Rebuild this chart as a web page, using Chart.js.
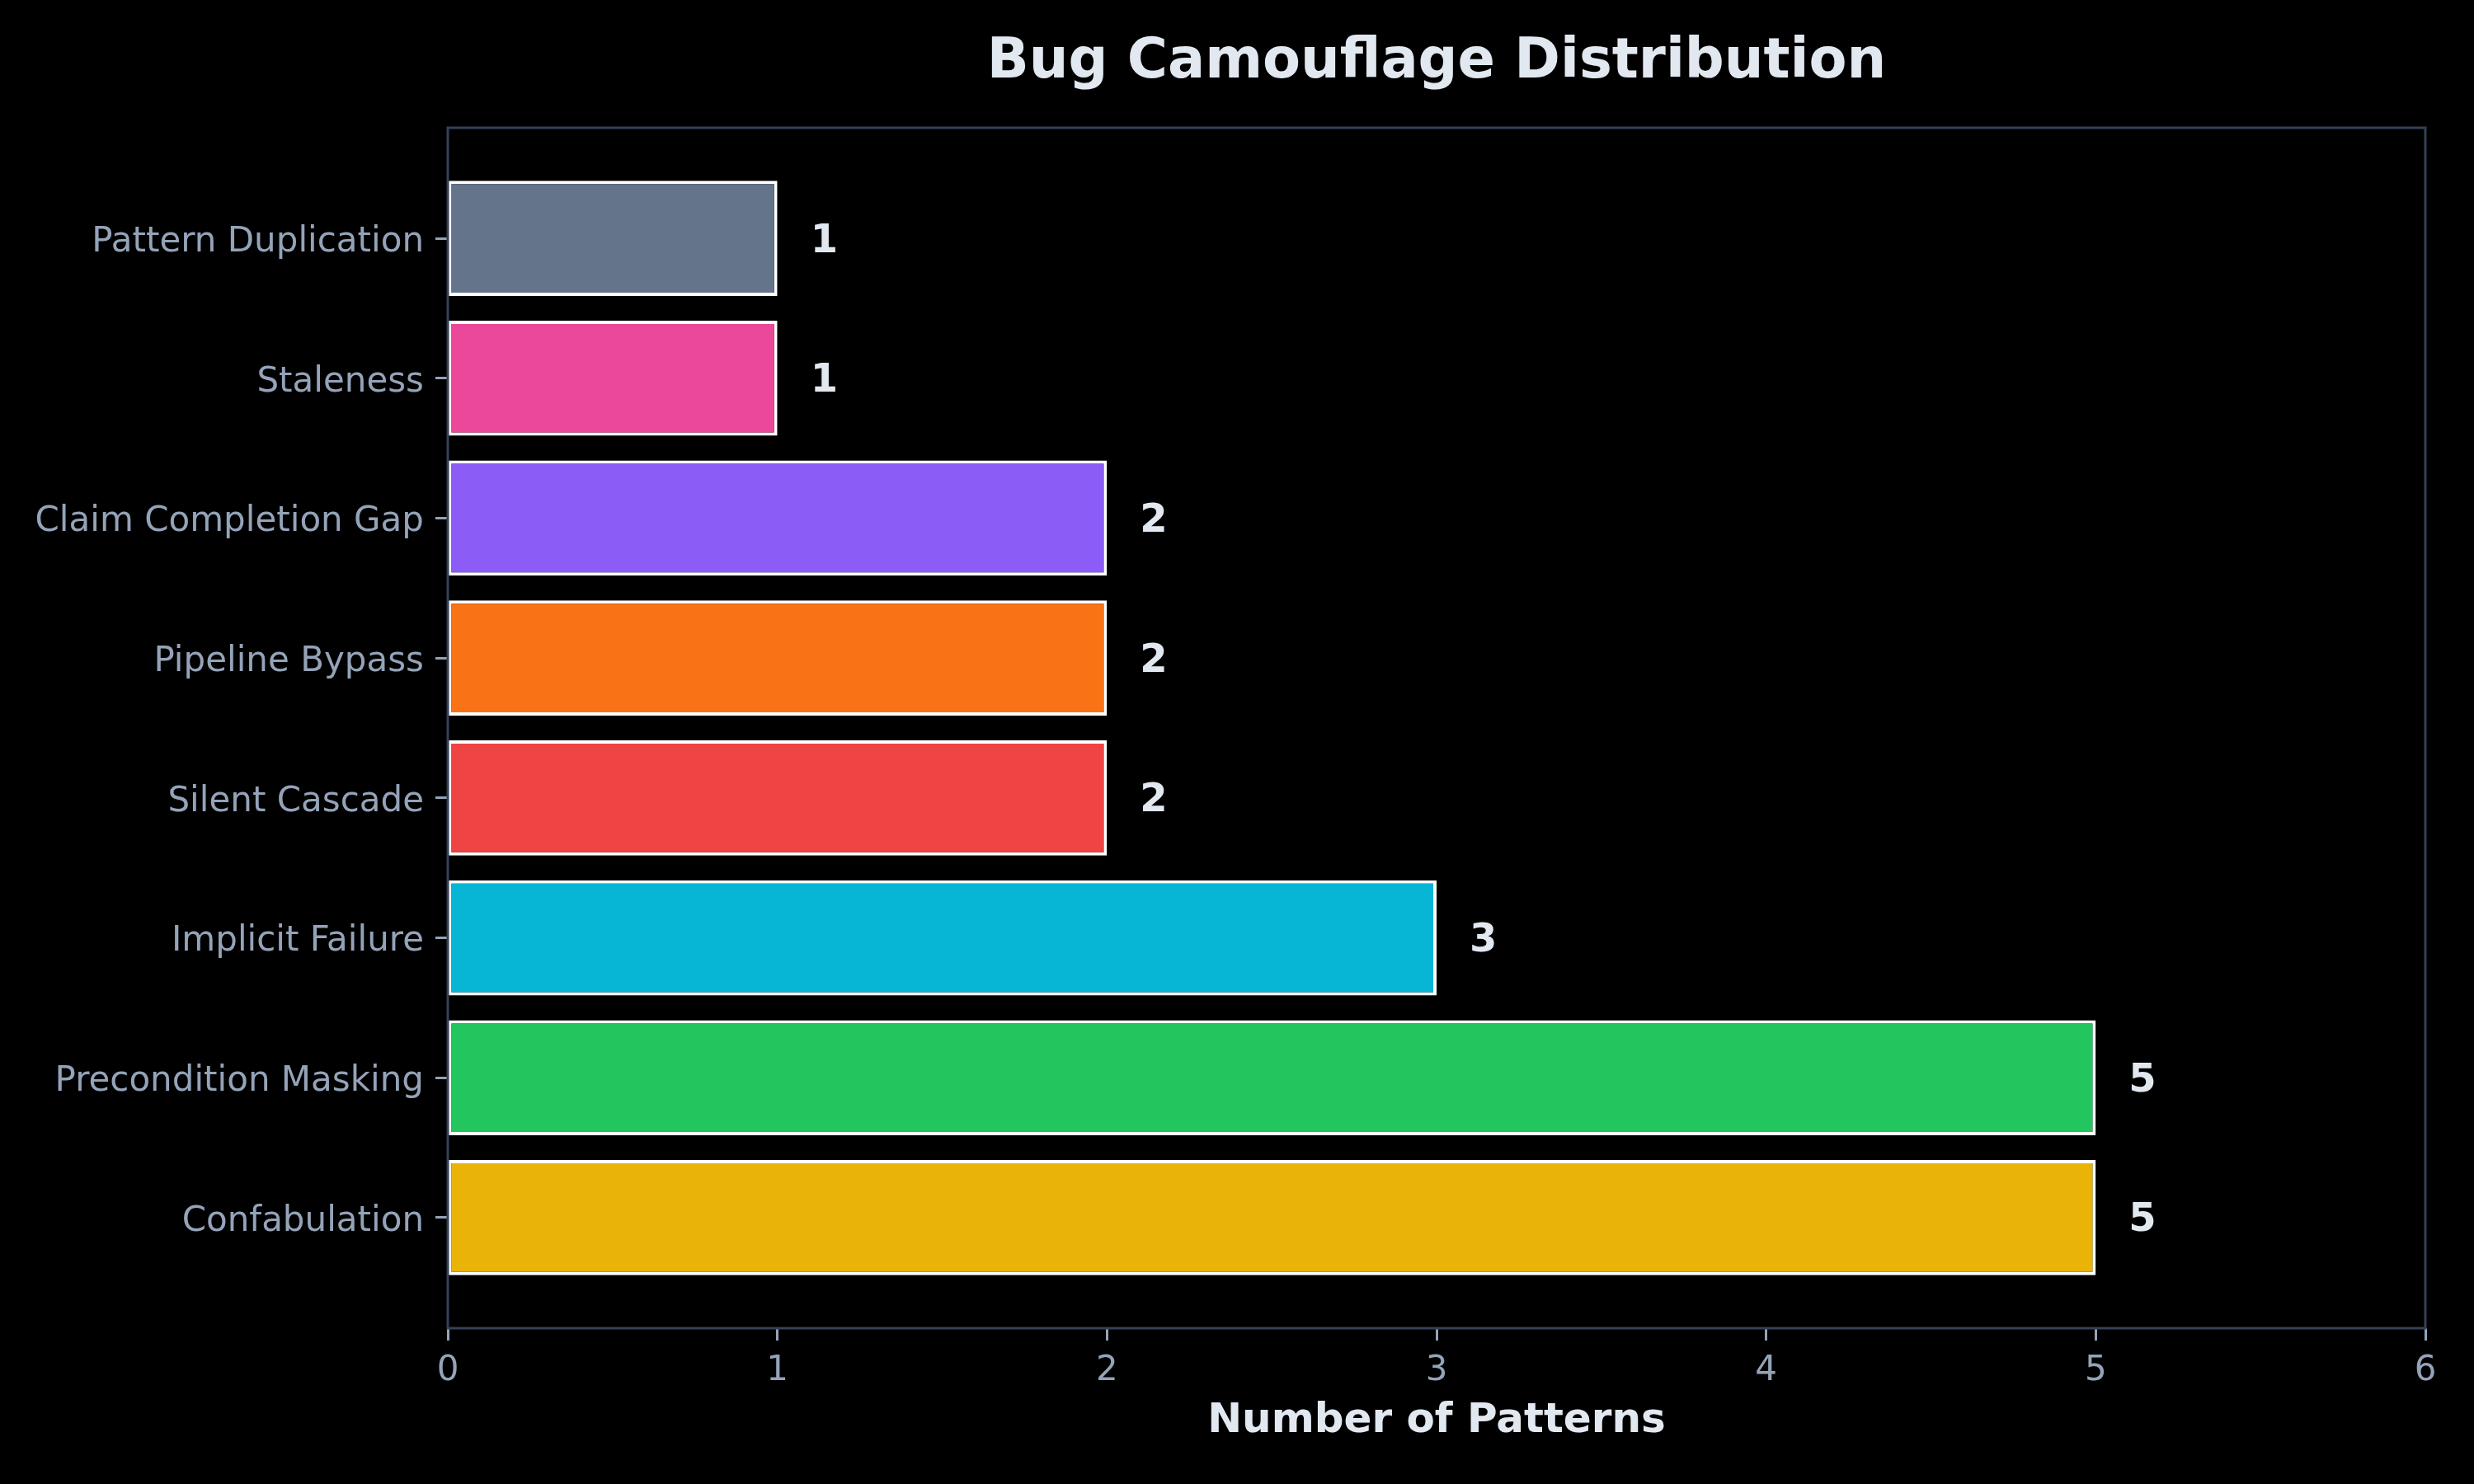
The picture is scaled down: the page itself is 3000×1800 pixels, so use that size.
<!DOCTYPE html>
<html>
<head>
<meta charset="utf-8">
<script src="https://cdn.jsdelivr.net/npm/chart.js@4"></script>
<style>
  html, body { margin: 0; padding: 0; background: #000; }
  #chart { display: block; }
</style>
</head>
<body>
<canvas id="chart" width="3000" height="1800"></canvas>
<script>
// bottom to top, like the matplotlib barh
const categories = ['Confabulation', 'Precondition Masking', 'Implicit Failure', 'Silent Cascade',
    'Pipeline Bypass', 'Claim Completion Gap', 'Staleness', 'Pattern Duplication'];
const counts = [5, 5, 3, 2, 2, 2, 1, 1];
const barColors = ['#eab308', '#22c55e', '#06b6d4', '#ef4444', '#f97316', '#8b5cf6', '#ec4899', '#64748b'];
const xTicks = [0, 1, 2, 3, 4, 5, 6];

const titleText = 'Bug Camouflage Distribution';
const xTitle = 'Number of Patterns';

const FONT = "'DejaVu Sans', sans-serif";

const decor = {
    id: 'decor',
    beforeDraw(chart) {
        const ctx = chart.ctx;
        ctx.save();
        ctx.fillStyle = '#000';
        ctx.fillRect(0, 0, chart.width, chart.height);
        ctx.restore();
    },
    afterDatasetsDraw(chart) {
        const { ctx, chartArea: a, scales } = chart;
        ctx.save();
        // spines
        ctx.strokeStyle = '#334155';
        ctx.lineWidth = 3;
        ctx.strokeRect(a.left, a.top, a.right - a.left, a.bottom - a.top);
        // value labels
        ctx.fillStyle = '#e2e8f0';
        ctx.font = 'bold 48px ' + FONT;
        ctx.textAlign = 'left';
        ctx.textBaseline = 'middle';
        counts.forEach((v, i) => {
            ctx.fillText(String(v), scales.x.getPixelForValue(v + 0.1), scales.y.getPixelForValue(i) + 4);
        });
        // title
        ctx.font = 'bold 67px ' + FONT;
        ctx.textAlign = 'center';
        ctx.textBaseline = 'alphabetic';
        ctx.fillText(titleText, (a.left + a.right) / 2, 94);
        ctx.restore();
    }
};

new Chart(document.getElementById('chart').getContext('2d'), {
    type: 'bar',
    data: {
        datasets: [{
            data: counts.map((v, i) => ({ x: v, y: i })),
            backgroundColor: barColors,
            borderColor: '#ffffff',
            borderWidth: 4,
            borderSkipped: false,
            categoryPercentage: 1,
            barPercentage: 0.823
        }]
    },
    options: {
        indexAxis: 'y',
        responsive: false,
        animation: false,
        devicePixelRatio: 1,
        layout: { padding: { top: 155, right: 59, left: 0, bottom: 0 } },
        plugins: {
            legend: { display: false },
            tooltip: { enabled: false }
        },
        scales: {
            x: {
                type: 'linear',
                min: 0,
                max: 6,
                afterBuildTicks: axis => { axis.ticks = xTicks.map(v => ({ value: v })); },
                afterFit: scale => { scale.height = 189; },
                ticks: { color: '#94a3b8', font: { family: FONT, size: 42 }, padding: 12 },
                grid: { drawOnChartArea: false, drawTicks: true, tickLength: 15, tickWidth: 3, tickColor: '#94a3b8' },
                border: { display: false },
                title: {
                    display: true,
                    text: xTitle,
                    color: '#e2e8f0',
                    font: { family: FONT, size: 50, weight: 'bold' },
                    padding: { top: 0, bottom: 46 }
                }
            },
            y: {
                type: 'linear',
                min: -0.79,
                max: 7.79,
                offset: false,
                afterBuildTicks: axis => { axis.ticks = categories.map((c, i) => ({ value: i })); },
                afterFit: scale => { scale.width = 543; },
                ticks: {
                    color: '#94a3b8',
                    font: { family: FONT, size: 42 },
                    padding: 14,
                    labelOffset: 5,
                    callback: v => categories[v]
                },
                grid: { offset: false, drawOnChartArea: false, drawTicks: true, tickLength: 15, tickWidth: 3, tickColor: '#94a3b8' },
                border: { display: false }
            }
        }
    },
    plugins: [decor]
});
</script>
</body>
</html>
